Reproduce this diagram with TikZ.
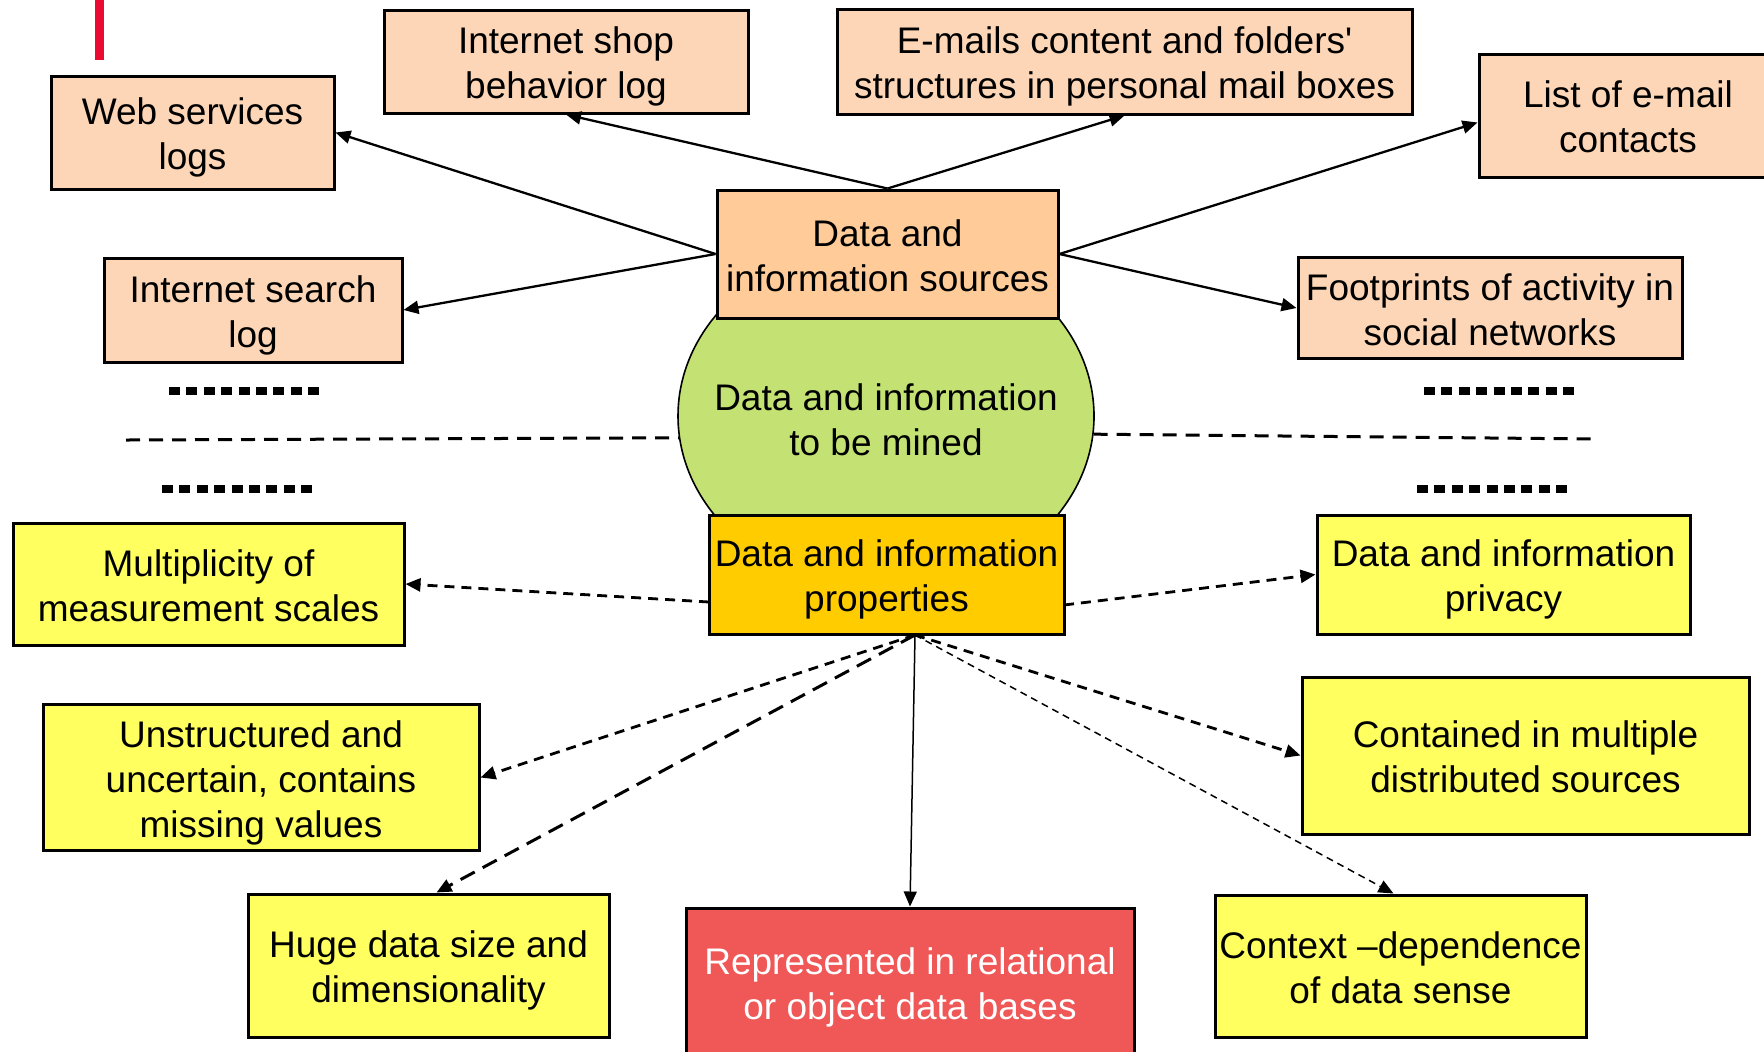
\documentclass[tikz,border=0pt]{standalone}
\usepackage{fontspec}
\setmainfont{Liberation Sans}
\usetikzlibrary{arrows.meta,shapes.geometric,calc}

\definecolor{peach}{RGB}{252,214,182}
\definecolor{srcfill}{RGB}{255,204,153}
\definecolor{minegreen}{RGB}{196,226,116}
\definecolor{propfill}{RGB}{255,204,0}
\definecolor{lemon}{RGB}{255,255,96}
\definecolor{dbred}{RGB}{240,88,88}
\definecolor{barred}{RGB}{235,10,50}

% struts that centre the cap height of a text block in its box
\newcommand\firstln{\rule{0pt}{21.5pt}}
\newcommand\lastln{\rule[-6.75pt]{0pt}{6.75pt}}

\tikzset{
  % one unit = one pixel of a 1764 x 1051 canvas, y pointing down
  x=0.5pt, y=-0.5pt,
  every node/.style={font=\fontsize{18.5}{22.5}\selectfont, align=center, inner sep=0pt},
  box/.style={draw=black, line width=1.5pt, rectangle},
  srcbox/.style={box, fill=peach},
  propbox/.style={box, fill=lemon},
  tip/.style={-{Triangle[length=7.5pt,width=6.5pt]}},
  srcarrow/.style={tip, line width=1.15pt},
  proparrow/.style={tip, line width=1.4pt, dash pattern=on 5pt off 3.5pt},
  longdash/.style={tip, line width=1.5pt, dash pattern=on 8pt off 4.5pt},
  finedash/.style={tip, line width=0.75pt, dash pattern=on 3.5pt off 2.5pt},
  thinarrow/.style={tip, line width=0.75pt},
  divider/.style={line width=1.5pt, dash pattern=on 7pt off 4.5pt},
  ellipsis/.style={line width=4pt, dash pattern=on 5.5pt off 3.2pt, line cap=butt},
}

\begin{document}
\begin{tikzpicture}
\useasboundingbox (0,0) rectangle (1764,1051);
\clip (0,0) rectangle (1764,1051);

% accent bar
\fill[barred] (95,0) rectangle (104,60);

% central ellipse (drawn first, boxes overlap it)
\node[ellipse, draw=black, line width=0.8pt, fill=minegreen,
      minimum width=208pt, minimum height=175pt] (mined) at (886,416) {};
\node (minedtext) at (886,418.5) {\firstln Data and information\\to be mined\lastln};

% data sources
\node[box, fill=srcfill, minimum width=170.5pt, minimum height=64pt] (sources) at (887.5,254)
      {\firstln Data and\\information sources\lastln};
\node[srcbox, minimum width=141.5pt, minimum height=56.5pt] (web) at (192.5,132.5)
      {\firstln Web services\\logs\lastln};
\node[srcbox, minimum width=182pt, minimum height=51.5pt] (shop) at (566,61.5)
      {\firstln Internet shop\\behavior log\lastln};
\node[srcbox, minimum width=287.5pt, minimum height=52.5pt] (emails) at (1124.5,61.5)
      {\firstln E-mails content and folders\textquotesingle\\structures in personal mail boxes\lastln};
\node[srcbox, minimum width=149pt, minimum height=61.5pt] (contacts) at (1628,115.5)
      {\firstln List of e-mail\\contacts\lastln};
\node[srcbox, minimum width=149pt, minimum height=52pt] (search) at (253,310)
      {\firstln Internet search\\log\lastln};
\node[srcbox, minimum width=192pt, minimum height=50pt] (social) at (1490,308)
      {\firstln Footprints of activity in\\social networks\lastln};

% data properties
\node[box, fill=propfill, minimum width=177.5pt, minimum height=59.5pt] (props) at (886.5,574.5)
      {\firstln Data and information\\properties\lastln};
\node[propbox, minimum width=195.5pt, minimum height=61pt] (scales) at (208.5,584)
      {\firstln Multiplicity of\\measurement scales\lastln};
\node[propbox, minimum width=186.5pt, minimum height=59.5pt] (privacy) at (1503.5,574.5)
      {\firstln Data and information\\privacy\lastln};
\node[propbox, minimum width=218pt, minimum height=70.5pt] (unstr) at (261,777.5)
      {\firstln Unstructured and\\uncertain, contains\\missing values\lastln};
\node[propbox, minimum width=180.5pt, minimum height=71.5pt] (huge) at (428.5,965.5)
      {\firstln Huge data size and\\dimensionality\lastln};
\node[box, fill=dbred, text=white, minimum width=224pt, minimum height=74pt] (relational) at (910,982)
      {\firstln Represented in relational\\or object data bases\lastln};
\node[propbox, minimum width=223.5pt, minimum height=78.5pt] (distrib) at (1525.5,755.5)
      {\firstln Contained in multiple\\distributed sources\lastln};
\node[propbox, minimum width=185.5pt, minimum height=71pt] (context) at (1400.5,966)
      {\firstln Context –dependence\\of data sense\lastln};

% connector end points
\coordinate (hub) at (915,635);
\coordinate (propL) at (709,602);
\coordinate (propR) at (1064,605);
\coordinate (divL) at (126,440);
\coordinate (divR) at (1595,439);

% arrows to the sources
\draw[srcarrow] (sources.north) -- (shop.south);
\draw[srcarrow] (sources.north) -- (emails.south);
\draw[srcarrow] (sources.west) -- (web.east);
\draw[srcarrow] (sources.west) -- (search.east);
\draw[srcarrow] (sources.east) -- ([yshift=-3.5pt]contacts.west);
\draw[srcarrow] (sources.east) -- (social.west);

% arrows to the properties
\draw[proparrow] (propL) -- (scales.east);
\draw[proparrow] (propR) -- (privacy.west);
\draw[proparrow] (hub) -- (unstr.east);
\draw[longdash] (hub) -- ([xshift=4pt]huge.north);
\draw[thinarrow] (hub) -- (relational.north);
\draw[proparrow] (hub) -- (distrib.west);
\draw[finedash] (hub) -- ([xshift=-3.5pt]context.north);

% dividing lines
\draw[divider] (divL) -- (mined.186.6);
\draw[divider] (mined.355.6) -- (divR);

% continuation marks
\draw[ellipsis] (169,391) -- (320,391);
\draw[ellipsis] (162,489) -- (313,489);
\draw[ellipsis] (1424,391) -- (1575,391);
\draw[ellipsis] (1417,489) -- (1568,489);
\end{tikzpicture}
\end{document}
